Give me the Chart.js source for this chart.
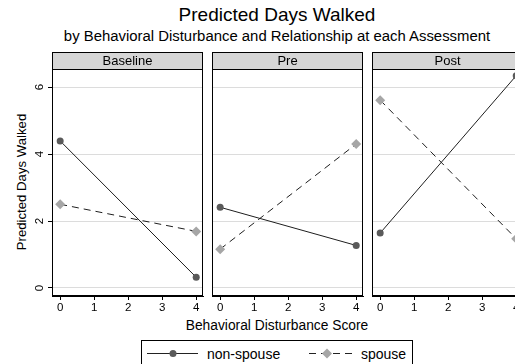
<!DOCTYPE html>
<html>
<head>
<meta charset="utf-8">
<script src="https://cdn.jsdelivr.net/npm/chart.js@4.4.0/dist/chart.umd.min.js"></script>
<style>
  html, body { margin: 0; padding: 0; background: #fff; }
  #wrap { position: relative; width: 515px; height: 364px; overflow: hidden;
          font-family: "Liberation Sans", Arial, Helvetica, sans-serif; color: #000; }
  .panel { position: absolute; top: 50px; }
  .txt { position: absolute; white-space: nowrap; }
</style>
</head>
<body>
<div id="wrap">
  <div class="txt" style="left:0;width:554px;top:3px;text-align:center;font-size:19px;line-height:24px;">Predicted Days Walked</div>
  <div class="txt" style="left:0;width:554px;top:28px;text-align:center;font-size:14.9px;line-height:17px;">by Behavioral Disturbance and Relationship at each Assessment</div>
  <div class="txt" style="left:22px;top:182px;font-size:13.2px;line-height:16px;transform:translate(-50%,-50%) rotate(-90deg);">Predicted Days Walked</div>
  <div class="txt" style="left:0;width:554px;top:318px;text-align:center;font-size:13.8px;line-height:16px;">Behavioral Disturbance Score</div>

  <canvas id="p0" class="panel" width="210" height="262" style="left:0px"></canvas>
  <canvas id="p1" class="panel" width="210" height="262" style="left:160px"></canvas>
  <canvas id="p2" class="panel" width="210" height="262" style="left:320px"></canvas>

  <svg style="position:absolute;left:141px;top:340px" width="272" height="30">
    <rect x="0.5" y="0.5" width="271" height="40" fill="none" stroke="#000" stroke-width="1"/>
    <line x1="6" y1="13.5" x2="57" y2="13.5" stroke="#222" stroke-width="1"/>
    <circle cx="32" cy="13.5" r="3.5" fill="#5a5a5a"/>
    <text x="66" y="18.5" font-family="Liberation Sans, Arial, sans-serif" font-size="14">non-spouse</text>
    <line x1="168" y1="13.5" x2="212" y2="13.5" stroke="#222" stroke-width="1" stroke-dasharray="7,5"/>
    <polygon points="186,8.5 191,13.5 186,18.5 181,13.5" fill="#a6a6a6"/>
    <text x="220" y="18.5" font-family="Liberation Sans, Arial, sans-serif" font-size="14">spouse</text>
  </svg>
</div>

<script>
// Assessment panels and behavioral disturbance scores on the x axis
const panelNames = ['Baseline', 'Pre', 'Post'];
const scores = [0, 4];
const xTicks = [0, 1, 2, 3, 4];
const yTicks = [0, 2, 4, 6];

// Predicted days walked, non-spouse caregivers
const nonSpouseBaseline = [4.39, 0.32];
const nonSpousePre = [2.41, 1.27];
const nonSpousePost = [1.64, 6.34];

// Predicted days walked, spouse caregivers
const spouseBaseline = [2.50, 1.69];
const spousePre = [1.16, 4.30];
const spousePost = [5.61, 1.47];

const nonSpouseByPanel = [nonSpouseBaseline, nonSpousePre, nonSpousePost];
const spouseByPanel = [spouseBaseline, spousePre, spousePost];

const FONT = '"Liberation Sans", Arial, Helvetica, sans-serif';
const HEADER_H = 17;

// Frame, grey header strip with panel name, and rotated y labels on the first panel
const facetFrame = {
  id: 'facetFrame',
  afterDraw(chart, args, opts) {
    const { ctx, chartArea: a } = chart;
    ctx.save();
    const top = a.top - HEADER_H;
    ctx.fillStyle = '#d6d6d6';
    ctx.fillRect(a.left, top, a.right - a.left, HEADER_H);
    ctx.strokeStyle = '#000';
    ctx.lineWidth = 1;
    ctx.strokeRect(a.left + 0.5, top + 0.5, a.right - a.left - 1, a.bottom - top - 1);
    ctx.beginPath();
    ctx.moveTo(a.left, a.top + 0.5);
    ctx.lineTo(a.right, a.top + 0.5);
    ctx.stroke();
    ctx.fillStyle = '#000';
    ctx.font = '13px ' + FONT;
    ctx.textAlign = 'center';
    ctx.textBaseline = 'middle';
    ctx.fillText(opts.name, (a.left + a.right) / 2, top + HEADER_H / 2 + 1);
    if (opts.yLabels) {
      const ys = chart.scales.y;
      ctx.font = '11.5px ' + FONT;
      yTicks.forEach(v => {
        const py = ys.getPixelForValue(v);
        ctx.save();
        ctx.translate(a.left - 12, py);
        ctx.rotate(-Math.PI / 2);
        ctx.fillText(String(v), 0, 0);
        ctx.restore();
      });
    }
    ctx.restore();
  }
};

function makePanel(i) {
  const first = i === 0;
  const toPoints = vals => scores.map((s, k) => ({ x: s, y: vals[k] }));
  return new Chart(document.getElementById('p' + i), {
    type: 'line',
    data: {
      datasets: [
        {
          label: 'non-spouse',
          data: toPoints(nonSpouseByPanel[i]),
          borderColor: '#1e1e1e',
          borderWidth: 1,
          pointStyle: 'circle',
          pointRadius: 3.5,
          pointBackgroundColor: '#5a5a5a',
          pointBorderColor: '#5a5a5a',
          pointBorderWidth: 0
        },
        {
          label: 'spouse',
          data: toPoints(spouseByPanel[i]),
          borderColor: '#1e1e1e',
          borderWidth: 1,
          borderDash: [7, 5],
          pointStyle: 'rectRot',
          pointRadius: 5,
          pointBackgroundColor: '#a6a6a6',
          pointBorderColor: '#a6a6a6',
          pointBorderWidth: 0
        }
      ]
    },
    options: {
      responsive: false,
      animation: false,
      devicePixelRatio: 1,
      events: [],
      clip: false,
      layout: { padding: { top: 19, right: 7, left: 0, bottom: 0 } },
      plugins: {
        legend: { display: false },
        tooltip: { enabled: false },
        facetFrame: { name: panelNames[i], yLabels: first }
      },
      scales: {
        x: {
          type: 'linear',
          min: -0.24,
          max: 4.2,
          afterBuildTicks: s => { s.ticks = xTicks.map(v => ({ value: v })); },
          afterFit: s => { s.height = 16; },
          grid: { drawOnChartArea: false, drawTicks: true, tickLength: 4, tickColor: '#000' },
          border: { display: true, color: '#000', width: 1 },
          ticks: { color: '#000', font: { family: FONT, size: 11.5 }, padding: 1, maxRotation: 0 }
        },
        y: {
          type: 'linear',
          min: -0.24,
          max: 6.54,
          afterBuildTicks: s => { s.ticks = yTicks.map(v => ({ value: v })); },
          afterFit: s => { s.width = 52; },
          grid: { color: '#dcdcdc', lineWidth: 1, drawTicks: first, tickLength: 4, tickColor: '#000' },
          border: { display: true, color: '#000', width: 1 },
          ticks: { display: false }
        }
      }
    },
    plugins: [facetFrame]
  });
}

panelNames.forEach((_, i) => makePanel(i));
</script>
</body>
</html>
